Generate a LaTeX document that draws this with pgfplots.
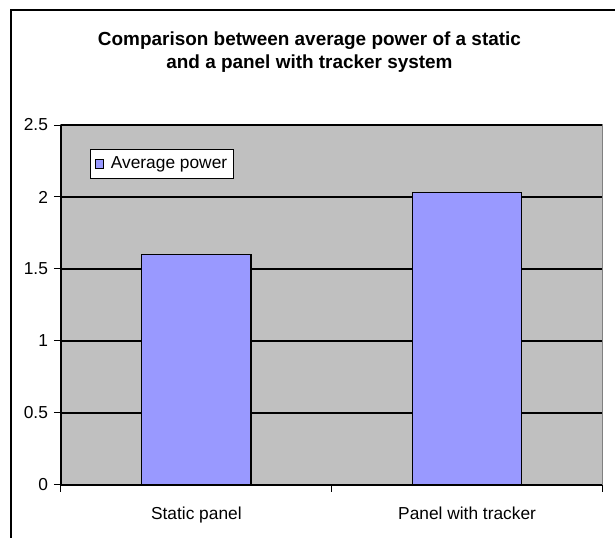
\documentclass[border=0pt]{standalone}
\usepackage{pgfplots}
\pgfplotsset{compat=1.18}
\usepackage{fontspec}
\setmainfont{Liberation Sans}
\definecolor{plotgray}{RGB}{192,192,192}
\definecolor{barblue}{RGB}{153,153,255}
\definecolor{framegray}{RGB}{128,128,128}
\begin{document}
\begin{tikzpicture}
\path[use as bounding box] (0pt,0pt) rectangle (461.25pt,402.75pt);
\draw[black, line width=1.1pt] (8.25pt,-20pt) rectangle (480pt,395.25pt);
\node[anchor=base, font=\bfseries\fontsize{14.2}{17}\selectfont, inner sep=0pt] at (232.1pt,368.5pt) {Comparison between average power of a static};
\node[anchor=base, font=\bfseries\fontsize{14.2}{17}\selectfont, inner sep=0pt] at (232.1pt,351.5pt) {and a panel with tracker system};
\begin{axis}[
  at={(45.75pt,309pt)}, anchor=north west,
  scale only axis, width=406.1pt, height=270pt,
  xmin=-0.5, xmax=1.5, ymin=0, ymax=2.5,
  ybar, bar width=82pt,
  axis background/.style={fill=plotgray, draw=framegray, line width=1pt},
  axis x line*=bottom, axis y line*=left,
  axis line style={black, line width=1pt},
  tick align=outside,
  ytick={0,0.5,1,1.5,2,2.5},
  yticklabels={0,0.5,1,1.5,2,2.5},
  major tick length=5.25pt,
  tick style={black, line width=0.75pt},
  ymajorgrids, major grid style={black, line width=0.8pt},
  xtick={-0.5,0.5,1.5}, xticklabels={},
  extra x ticks={0,1},
  extra x tick labels={Static panel, Panel with tracker},
  extra x tick style={major tick length=0pt, xticklabel style={yshift=-13pt}},
  every tick label/.append style={font=\fontsize{13}{15}\selectfont},
  yticklabel style={xshift=-1pt},
  legend style={at={(0.0536,0.9333)}, anchor=north west, draw=black, fill=white,
    line width=0.75pt, font=\fontsize{13}{15}\selectfont, inner xsep=3pt, inner ysep=3.5pt,
    /tikz/every odd column/.append style={column sep=3pt}},
  legend image code/.code={\draw[fill=barblue, draw=black, line width=0.8pt] (0pt,-3.2pt) rectangle (6.5pt,3.2pt);},
]
\addplot[fill=barblue, draw=black, line width=1pt] coordinates {(0,1.6) (1,2.03)};
\addlegendentry{Average power}
\end{axis}
\end{tikzpicture}
\end{document}
